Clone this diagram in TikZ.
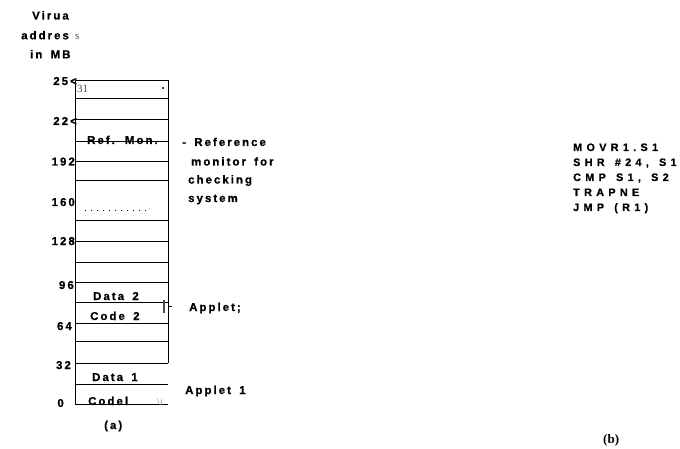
\documentclass[tikz,border=0pt]{standalone}
\usepackage{fontspec}
\setmainfont{Liberation Sans}[LetterSpace=18, WordSpace=1.6, BoldFont={Liberation Sans Bold}, BoldFeatures={FakeBold=0.8}]
\newfontfamily\codefont{Liberation Sans}[LetterSpace=40, WordSpace=1.4, BoldFont={Liberation Sans Bold}, BoldFeatures={FakeBold=0.8}]
\newfontfamily\srf{Liberation Serif}
\tikzset{
  lbl/.style={font=\fontsize{11.4}{14}\selectfont\bfseries, inner sep=0pt, anchor=base west},
  num/.style={font=\fontsize{11.4}{14}\selectfont\bfseries, inner sep=0pt, anchor=base east},
  scan/.style={font=\srf, text=black!70, inner sep=0pt, anchor=base west},
  codeline/.style={font=\codefont\fontsize{10.8}{12}\selectfont\bfseries, inner sep=0pt, anchor=base west}
}
\begin{document}
\begin{tikzpicture}[x=1pt,y=-1pt]
\useasboundingbox (0,0) rectangle (680,449);
% memory map (a)
\def\xl{75}
\def\xr{168}
\draw (\xl,80) -- (\xr,80);
\draw (\xl,80) -- (\xl,404) -- (\xr,404);
\draw (\xr,80) -- (\xr,363);
\foreach \y in {98,119,141,161,180,220,241,262,282,302,323,341,363,384}
  \draw (\xl,\y) -- (\xr,\y);
\draw[line width=0.4pt, dash pattern=on 0.7pt off 5.3pt] (85,210) -- (146,210);
\node[scan, font=\srf\tiny] (cm) at (149,210) {,};
\fill (163,88) circle (1.2);
\draw[black!70, line width=1.2pt] (164,300) -- (164,313);
\draw (169,306) -- (172,306);

% axis title
\node[lbl] (t1) at (32,19.5) {Virua};
\node[lbl] (t2) at (21,39.3) {addres};
\node[scan, font=\srf\fontsize{11}{12}\selectfont] (t2s) at (75,39.3) {s};
\node[lbl] (t3) at (30,58.3) {in MB};

% addresses
\node[num] (a25) at (77,85) {25<};
\node[num] (a22) at (77,125) {22<};
\node[num] (a192) at (75,165.5) {192};
\node[num] (a160) at (75,206) {160};
\node[num] (a128) at (75,245) {128};
\node[num] (a96) at (74,289) {96};
\node[num] (a64) at (72,330) {64};
\node[num] (a32) at (71,369) {32};
\node[num] (a0) at (64,407) {0};

% cells
\node[scan, font=\srf\fontsize{11}{12}\selectfont] (c31) at (77,93) {31};
\node[lbl] (rm) at (87,144) {Ref. Mon.};
\node[lbl] (d2) at (93,300) {Data 2};
\node[lbl] (k2) at (90,320) {Code 2};
\node[lbl] (d1) at (92,381) {Data 1};
\node[lbl] (k1) at (88,405) {Codel};
\node[scan, text=black!45] (ki) at (157,405) {\textbackslash\textit{i}};
\node[lbl] (ca) at (104,429) {(a)};

% notes
\node[lbl] (r1) at (182,146) {-\ Reference};
\node[lbl] (r2) at (191,165.5) {monitor for};
\node[lbl] (r3) at (188,183.5) {checking};
\node[lbl] (r4) at (188,202) {system};
\node[lbl] (ap2) at (189,311) {Applet;};
\node[lbl] (ap1) at (185,394) {Applet 1};

% code (b)
\node[codeline] (m1) at (573,151) {MOVR1.S1};
\node[codeline] (m2) at (573,166) {SHR \#24, S1};
\node[codeline] (m3) at (573,181) {CMP S1, S2};
\node[codeline] (m4) at (573,196) {TRAPNE};
\node[codeline] (m5) at (573,211) {JMP (R1)};
\node[font=\srf\bfseries\fontsize{13}{15}\selectfont, inner sep=0pt, anchor=base west] (cb) at (603,443) {(b)};
\end{tikzpicture}
\end{document}
